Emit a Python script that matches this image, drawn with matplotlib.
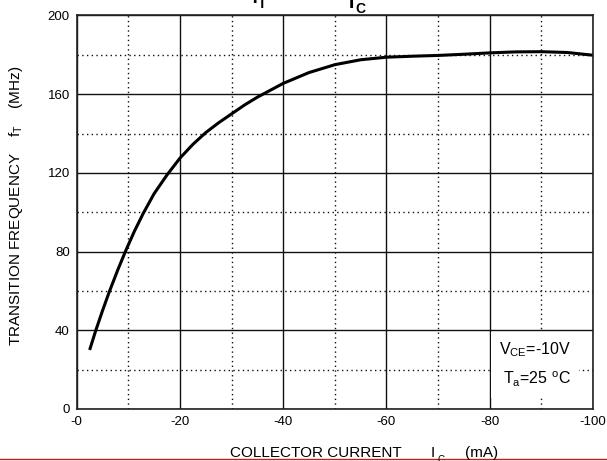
import numpy as np
import matplotlib
matplotlib.use("Agg")
import matplotlib.pyplot as plt
from matplotlib.lines import Line2D

plt.rcParams["font.family"] = ["Liberation Sans", "DejaVu Sans"]
plt.rcParams["mathtext.fontset"] = "custom"
plt.rcParams["mathtext.rm"] = "Liberation Sans"
plt.rcParams["mathtext.bf"] = "Liberation Sans:bold"

# collector current (mA) vs transition frequency (MHz)
ic_ma = [-2.5, -3.7, -5.0, -6.3, -8.0, -9.5, -11.2, -12.9, -15.0, -17.5,
         -20.0, -22.5, -25.0, -27.5, -30.0, -32.5, -35.0, -37.5, -40.0, -45.0,
         -50.0, -55.0, -60.0, -65.0, -70.0, -75.0, -80.0, -85.0, -90.0, -95.0, -100.0]
ft_mhz = [30, 40, 50, 59.5, 71, 80.5, 90.5, 99.5, 109.5, 119,
          127.5, 134.5, 140.5, 145.5, 150, 154.5, 158.5, 162, 165.5, 171,
          175, 177.5, 178.8, 179.3, 179.7, 180.3, 181.0, 181.5, 181.6, 181.2, 179.8]

x_ticks = [0, -20, -40, -60, -80, -100]
x_labels = ["-0", "-20", "-40", "-60", "-80", "-100"]
y_ticks = [0, 40, 80, 120, 160, 200]
y_labels = ["0", "40", "80", "120", "160", "200"]
x_minor = [-10, -30, -50, -70, -90]
y_minor = [20, 60, 100, 140, 180]

fig = plt.figure(figsize=(6.07, 4.61), dpi=100)
ax = fig.add_axes([0.1264, 0.1128, 0.8505, 0.8536])

ax.set_xlim(0, -100)
ax.set_ylim(0, 200)
ax.set_xticks(x_ticks)
ax.set_xticklabels(x_labels)
ax.set_yticks(y_ticks)
ax.set_yticklabels(y_labels)
ax.set_xticks(x_minor, minor=True)
ax.set_yticks(y_minor, minor=True)
ax.tick_params(which="both", length=0, labelsize=9.5)
ax.tick_params(axis="x", pad=5)
ax.tick_params(axis="y", pad=5)

ax.grid(True, which="major", color="#111111", linewidth=1.0)
ax.grid(True, which="minor", color="#111111", linewidth=1.0, linestyle=(0, (1, 2.4)))
ax.set_axisbelow(True)
for sp in ax.spines.values():
    sp.set_linewidth(1.2)
    sp.set_color("#222222")

ax.plot(ic_ma, ft_mhz, color="black", linewidth=2.2,
        solid_capstyle="butt", solid_joinstyle="round")

# conditions box
ax.text(0.957, 0.112, "V$_{\\mathregular{CE}}$=-10V\nT$_{\\mathregular{a}}$=25 $^{\\mathregular{o}}$C",
        transform=ax.transAxes, ha="right", va="center", fontsize=11.5, linespacing=1.75,
        bbox=dict(facecolor="white", edgecolor="none", pad=6))

# axis titles
fig.text(230 / 607, 1 - 457 / 461, "COLLECTOR CURRENT", fontsize=11, ha="left", va="baseline")
fig.text(431 / 607, 1 - 457 / 461, "I", fontsize=11, ha="left", va="baseline")
fig.text(437 / 607, 1 - 463 / 461, "C", fontsize=7, ha="left", va="baseline")
fig.text(465 / 607, 1 - 457 / 461, "(mA)", fontsize=11, ha="left", va="baseline")

fig.text(16 / 607, 1 - 206 / 461, "TRANSITION FREQUENCY    f$_{\\mathregular{T}}$    (MHz)",
         fontsize=11, rotation=90, ha="center", va="center")

# chart title (cut off by top edge)
fig.text(252 / 607, 1 - 3 / 461, "f", fontsize=14, fontweight="bold", ha="left", va="baseline")
fig.text(258 / 607, 1 - 8 / 461, "T", fontsize=10, fontweight="bold", ha="left", va="baseline")
fig.text(349 / 607, 1 - 8 / 461, "I", fontsize=14, fontweight="bold", ha="left", va="baseline")
fig.text(355 / 607, 1 - 13 / 461, "C", fontsize=10, fontweight="bold", ha="left", va="baseline")

# red rule along the bottom
fig.add_artist(Line2D([0, 1], [1 - 459 / 461, 1 - 459 / 461], transform=fig.transFigure,
                      color="#c0201c", linewidth=1.0))

fig.savefig("out.png", dpi=100)
